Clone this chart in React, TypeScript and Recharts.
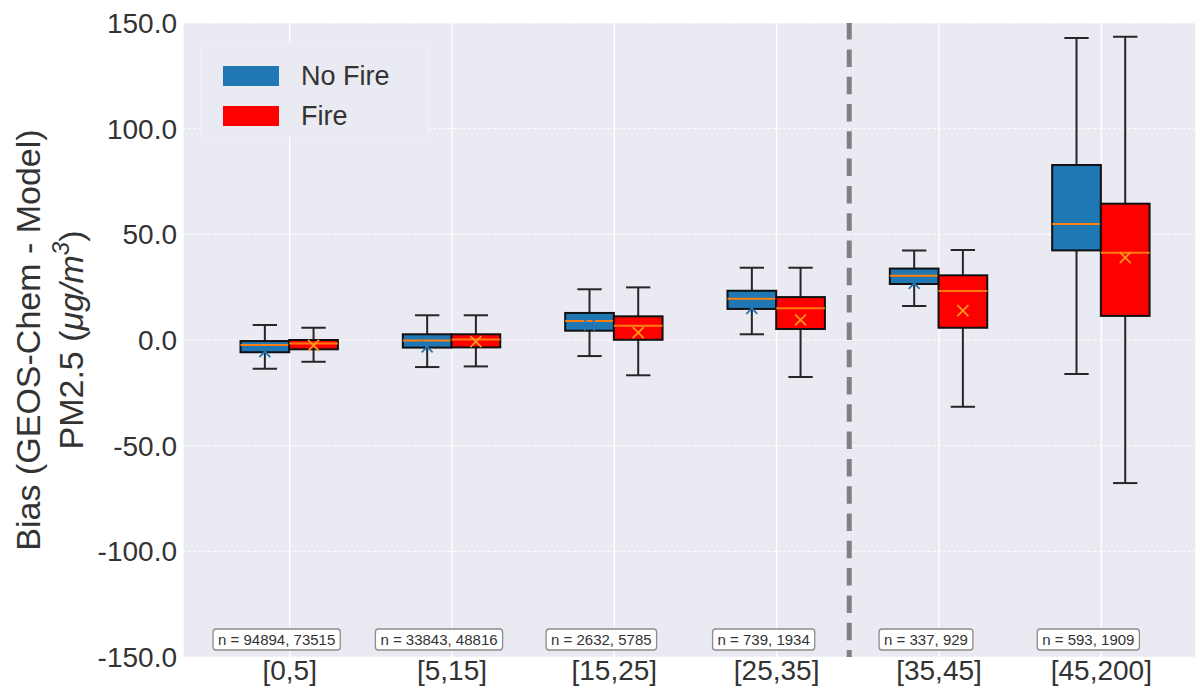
import {
  Bar,
  CartesianGrid,
  ComposedChart,
  Legend,
  ReferenceLine,
  XAxis,
  YAxis,
} from "recharts";

const FONT = "'Liberation Sans', Arial, sans-serif";
const BG = "#eaeaf2";
const BLUE = "#1f77b4";
const RED = "#ff0000";

const CATEGORIES = ["[0,5]", "[5,15]", "[15,25]", "[25,35]", "[35,45]", "[45,200]"];

// No Fire boxes
const NO_FIRE_MIN = [-13.6, -12.8, -7.6, 2.7, 16.1, -16.1];
const NO_FIRE_Q1 = [-5.8, -3.6, 4.4, 14.7, 26.5, 42.4];
const NO_FIRE_MEDIAN = [-2.4, -0.2, 9.0, 19.5, 30.4, 54.9];
const NO_FIRE_Q3 = [-0.5, 2.7, 12.8, 23.3, 33.8, 82.8];
const NO_FIRE_MAX = [7.1, 11.7, 24.0, 34.2, 42.3, 142.9];
const NO_FIRE_MEAN = [-5.5, -3.3, 7.0, 15.0, 26.8, 62.0];

// Fire boxes
const FIRE_MIN = [-10.3, -12.5, -16.7, -17.5, -31.6, -67.7];
const FIRE_Q1 = [-4.4, -3.5, 0.1, 5.2, 5.8, 11.4];
const FIRE_MEDIAN = [-1.6, 0.2, 6.8, 15.0, 23.2, 41.3];
const FIRE_Q3 = [0.0, 2.7, 11.2, 20.3, 30.6, 64.5];
const FIRE_MAX = [5.8, 11.7, 24.9, 34.2, 42.6, 143.5];
const FIRE_MEAN = [-2.5, -0.8, 3.5, 9.5, 13.9, 39.0];

const N_NO_FIRE = [94894, 33843, 2632, 739, 337, 593];
const N_FIRE = [73515, 48816, 5785, 1934, 929, 1909];

const Y_TICKS = [-150, -100, -50, 0, 50, 100, 150];
// dashed divider, on the 1..6 category index scale
const SPLIT_AT = 4.447;

const stats = (i: number, fire: boolean) =>
  fire
    ? { min: FIRE_MIN[i], q1: FIRE_Q1[i], med: FIRE_MEDIAN[i], q3: FIRE_Q3[i], max: FIRE_MAX[i], mean: FIRE_MEAN[i] }
    : { min: NO_FIRE_MIN[i], q1: NO_FIRE_Q1[i], med: NO_FIRE_MEDIAN[i], q3: NO_FIRE_Q3[i], max: NO_FIRE_MAX[i], mean: NO_FIRE_MEAN[i] };

const rows = CATEGORIES.map((cat, i) => ({
  cat,
  pos: i + 1,
  nfBox: [NO_FIRE_Q1[i], NO_FIRE_Q3[i]],
  fBox: [FIRE_Q1[i], FIRE_Q3[i]],
  nf: stats(i, false),
  f: stats(i, true),
}));

const nLabel = (i: number) => `n = ${N_NO_FIRE[i]}, ${N_FIRE[i]}`;

// rough Arial advance widths, good enough to size the little n-boxes
const textWidth = (s: string, size: number) =>
  [...s].reduce((w, c) => w + (/[0-9n]/.test(c) ? 0.556 : c === "=" ? 0.584 : 0.278), 0) * size;

function makeBoxShape(key: "nf" | "f", fill: string, meanColor: string) {
  return (props: any) => {
    const { x, y, width, height, payload } = props;
    const s = payload[key];
    const top = Math.min(y, y + height);
    const h = Math.abs(height);
    // pixels per unit, taken from the bar the library already scaled
    const ppu = h / (s.q3 - s.q1);
    const py = (v: number) => top + (s.q3 - v) * ppu;
    const cx = x + width / 2;
    const cap = width / 4;
    const my = py(s.mean);
    const m = 5.5;
    return (
      <g>
        <line x1={cx} x2={cx} y1={py(s.max)} y2={top} stroke="#262626" strokeWidth={2} />
        <line x1={cx} x2={cx} y1={top + h} y2={py(s.min)} stroke="#262626" strokeWidth={2} />
        <line x1={cx - cap} x2={cx + cap} y1={py(s.max)} y2={py(s.max)} stroke="#262626" strokeWidth={2} />
        <line x1={cx - cap} x2={cx + cap} y1={py(s.min)} y2={py(s.min)} stroke="#262626" strokeWidth={2} />
        <rect x={x} y={top} width={width} height={h} fill={fill} stroke="#111" strokeWidth={2} />
        <line x1={x} x2={x + width} y1={py(s.med)} y2={py(s.med)} stroke="#ff7f0e" strokeWidth={2} />
        <path
          d={`M${cx - m},${my - m}L${cx + m},${my + m}M${cx - m},${my + m}L${cx + m},${my - m}`}
          stroke={meanColor}
          strokeWidth={1.8}
        />
      </g>
    );
  };
}

// the No Fire mean cross is box-coloured, so it only shows outside the box
const NoFireBox = makeBoxShape("nf", BLUE, BLUE);
const FireBox = makeBoxShape("f", RED, "#ff9a1a");

function CategoryTick(props: any) {
  const { x, y, payload } = props;
  const label = nLabel(payload.index);
  const w = textWidth(label, 15) + 10;
  // the count boxes sit a little left of the category centre
  const bx = x - 13;
  return (
    <g>
      <rect x={bx - w / 2} y={y - 31} width={w} height={21} rx={3} fill="#fff" stroke="#8c8c8c" strokeWidth={1.3} />
      <text x={bx} y={y - 15} textAnchor="middle" fontSize={15} fill="#333" fontFamily={FONT}>
        {label}
      </text>
      <text x={x} y={y} dy="0.71em" textAnchor="middle" fontSize={28} fill="#333" fontFamily={FONT}>
        {payload.value}
      </text>
    </g>
  );
}

function YLabel() {
  const cy = 340;
  return (
    <g fontFamily={FONT} fontSize={34} fill="#333">
      <text x={40} y={cy} textAnchor="middle" transform={`rotate(-90, 40, ${cy})`}>
        Bias (GEOS-Chem - Model)
      </text>
      <text x={83} y={cy} textAnchor="middle" transform={`rotate(-90, 83, ${cy})`}>
        PM2.5 (<tspan fontStyle="italic">μg/m</tspan>
        <tspan fontSize={24} dy={-14} fontStyle="italic">3</tspan>
        <tspan dy={14}>)</tspan>
      </text>
    </g>
  );
}

function LegendBox() {
  const item = (top: number, color: string, text: string) => (
    <>
      <div style={{ position: "absolute", left: 22, top, width: 56, height: 20, background: color }} />
      <div style={{ position: "absolute", left: 100, top: top - 6, lineHeight: "32px", fontSize: 27, color: "#333" }}>
        {text}
      </div>
    </>
  );
  return (
    <div
      style={{
        position: "relative",
        width: 229,
        height: 95,
        background: BG,
        border: "1px solid #eeeef5",
        boxSizing: "border-box",
        fontFamily: FONT,
      }}
    >
      {item(23, BLUE, "No Fire")}
      {item(63, RED, "Fire")}
    </div>
  );
}

export default function App() {
  return (
    <div style={{ position: "absolute", left: 0, top: 0, width: 1196, height: 690, background: "#fff" }}>
      <ComposedChart
        width={1196}
        height={690}
        data={rows}
        margin={{ top: 23, right: 0, bottom: 0, left: 0 }}
        barGap={0}
        style={{ fontFamily: FONT }}
      >
        <CartesianGrid vertical={false} fill={BG} stroke="#fff" strokeDasharray="3 2" strokeWidth={1} />
        <CartesianGrid horizontal={false} stroke="#fff" strokeWidth={1.3} />
        <XAxis
          dataKey="cat"
          height={33}
          padding={{ left: 25.5, right: 13.5 }}
          tickLine={false}
          axisLine={false}
          tickSize={0}
          tickMargin={3}
          interval={0}
          tick={<CategoryTick />}
        />
        <XAxis
          xAxisId="num"
          dataKey="pos"
          type="number"
          domain={[0.343, 6.583]}
          allowDataOverflow
          hide
        />
        <YAxis
          width={183}
          domain={[-150, 150]}
          ticks={Y_TICKS}
          allowDataOverflow
          tickLine={false}
          axisLine={false}
          tickSize={0}
          tickMargin={6}
          tickFormatter={(v: number) => v.toFixed(1)}
          tick={{ fontSize: 28, fill: "#333", fontFamily: FONT }}
          label={{ content: <YLabel /> }}
        />
        <ReferenceLine
          xAxisId="num"
          x={SPLIT_AT}
          stroke="#808080"
          strokeWidth={5}
          strokeDasharray="17.5 9.8"
          strokeDashoffset={10.5}
        />
        <Bar dataKey="nfBox" name="No Fire" barSize={48.7} shape={NoFireBox} isAnimationActive={false} />
        <Bar dataKey="fBox" name="Fire" barSize={48.7} shape={FireBox} isAnimationActive={false} />
        <Legend
          layout="horizontal"
          verticalAlign="middle"
          align="center"
          content={<LegendBox />}
          wrapperStyle={{ left: 200, top: 42, width: 229, height: 95 }}
        />
      </ComposedChart>
    </div>
  );
}
